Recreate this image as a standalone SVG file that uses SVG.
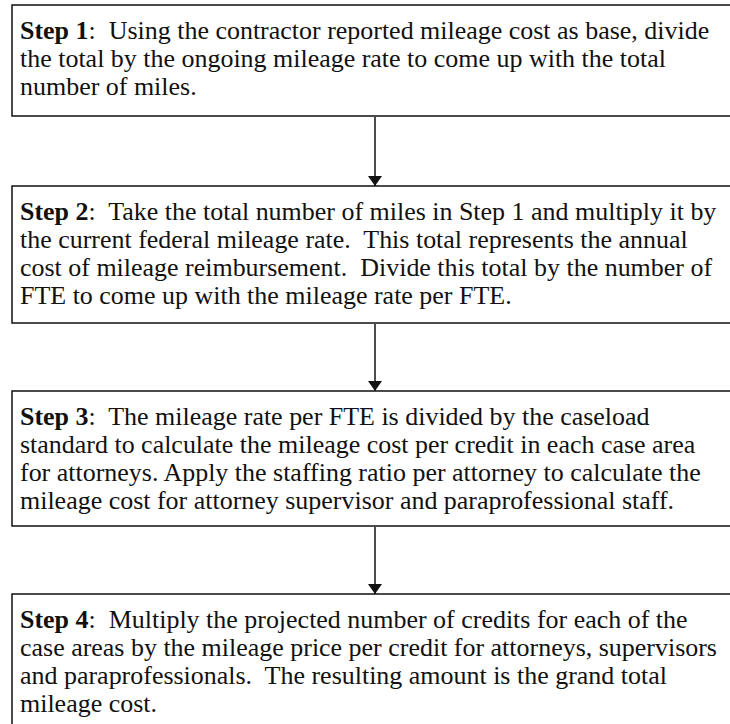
<svg xmlns="http://www.w3.org/2000/svg" width="730" height="724" viewBox="0 0 730 724">
<defs>
<style>
.box{fill:#fff;stroke:#111;stroke-width:1.5}
.t{font-family:'Liberation Serif',serif;font-size:24.5px;fill:#111;white-space:pre}
.b{font-weight:bold}
.c{stroke:#111;stroke-width:1.5;fill:none}
</style>
<marker id="ah" viewBox="0 0 10 14" refX="10" refY="7" markerWidth="10" markerHeight="14" markerUnits="userSpaceOnUse" orient="auto">
<path d="M0,0 L10,7 L0,14 z" fill="#111"/>
</marker>
</defs>
<rect width="730" height="724" fill="#fff"/>
<g id="connectors">
<line class="c" x1="375" y1="117" x2="375" y2="186" marker-end="url(#ah)"/>
<line class="c" x1="375" y1="324" x2="375" y2="391" marker-end="url(#ah)"/>
<line class="c" x1="375" y1="527" x2="375" y2="594" marker-end="url(#ah)"/>
</g>
<g id="step1">
<rect class="box" x="12" y="5" width="722" height="111"/>
<g transform="translate(20 0) scale(1.06 1)">
<text class="t" x="0" y="39"><tspan class="b">Step 1</tspan>:  Using the contractor reported mileage cost as base, divide</text>
<text class="t" x="0" y="67">the total by the ongoing mileage rate to come up with the total</text>
<text class="t" x="0" y="95">number of miles.</text>
</g>
</g>
<g id="step2">
<rect class="box" x="12" y="186" width="722" height="137"/>
<g transform="translate(20 0) scale(1.06 1)">
<text class="t" x="0" y="220"><tspan class="b">Step 2</tspan>:  Take the total number of miles in Step 1 and multiply it by</text>
<text class="t" x="0" y="248">the current federal mileage rate.  This total represents the annual</text>
<text class="t" x="0" y="276">cost of mileage reimbursement.  Divide this total by the number of</text>
<text class="t" x="0" y="304">FTE to come up with the mileage rate per FTE.</text>
</g>
</g>
<g id="step3">
<rect class="box" x="12" y="391" width="722" height="135"/>
<g transform="translate(20 0) scale(1.06 1)">
<text class="t" x="0" y="425"><tspan class="b">Step 3</tspan>:  The mileage rate per FTE is divided by the caseload</text>
<text class="t" x="0" y="453">standard to calculate the mileage cost per credit in each case area</text>
<text class="t" x="0" y="481">for attorneys. Apply the staffing ratio per attorney to calculate the</text>
<text class="t" x="0" y="509">mileage cost for attorney supervisor and paraprofessional staff.</text>
</g>
</g>
<g id="step4">
<rect class="box" x="12" y="594" width="722" height="140"/>
<g transform="translate(20 0) scale(1.06 1)">
<text class="t" x="0" y="628"><tspan class="b">Step 4</tspan>:  Multiply the projected number of credits for each of the</text>
<text class="t" x="0" y="656">case areas by the mileage price per credit for attorneys, supervisors</text>
<text class="t" x="0" y="684">and paraprofessionals.  The resulting amount is the grand total</text>
<text class="t" x="0" y="712">mileage cost.</text>
</g>
</g>
</svg>
